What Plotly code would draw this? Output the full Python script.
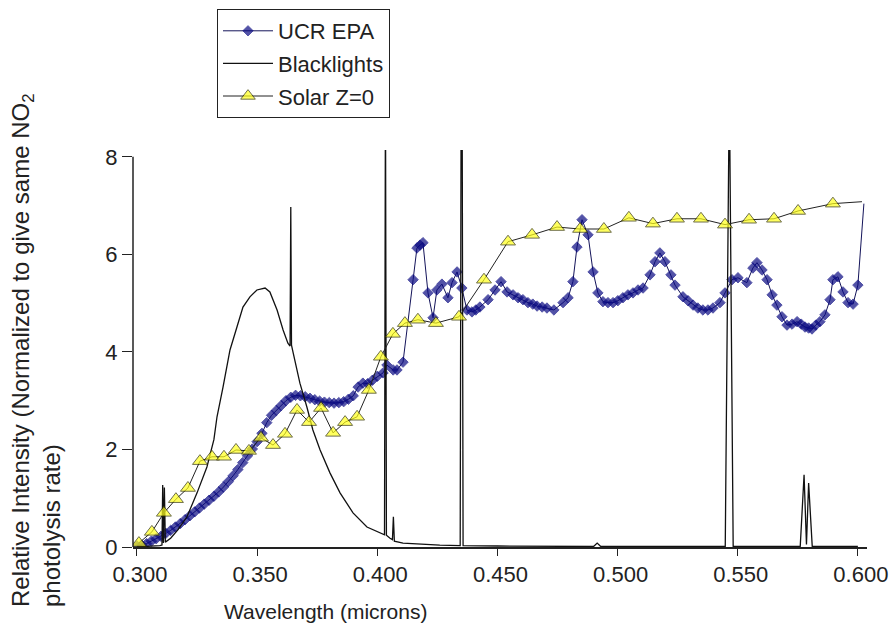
import plotly.graph_objects as go

# ---------------- data ----------------
ucr_x = [0.300, 0.302, 0.304, 0.306, 0.308, 0.310, 0.312, 0.314, 0.316, 0.318,
         0.320, 0.322, 0.324, 0.326, 0.328, 0.330, 0.332, 0.334, 0.336, 0.338,
         0.340, 0.342, 0.344, 0.346, 0.348, 0.350, 0.352, 0.354, 0.356, 0.358,
         0.360, 0.362, 0.364, 0.366, 0.368, 0.370, 0.372, 0.374, 0.376, 0.378,
         0.380, 0.382, 0.384, 0.386, 0.388, 0.390, 0.392, 0.394, 0.396, 0.398,
         0.400, 0.4024, 0.4040, 0.4066, 0.4082, 0.4107, 0.4149, 0.4165, 0.4178, 0.4190,
         0.4211, 0.4232, 0.4248, 0.4269, 0.4294, 0.4311, 0.4332, 0.4352, 0.4373, 0.4394,
         0.4410, 0.4427, 0.4461, 0.4490, 0.4515, 0.4540, 0.4565, 0.4586, 0.4606, 0.4627,
         0.4647, 0.4665, 0.4686, 0.4706, 0.4735, 0.4773, 0.4794, 0.4814, 0.4831, 0.4852,
         0.4877, 0.4898, 0.4918, 0.4939, 0.4960, 0.4981, 0.5001, 0.5022, 0.5043, 0.5064,
         0.5085, 0.5106, 0.5135, 0.5156, 0.5176, 0.5197, 0.5222, 0.5239, 0.5272, 0.5293,
         0.5314, 0.5334, 0.5355, 0.5376, 0.5397, 0.5426, 0.5447, 0.5476, 0.5501, 0.5538,
         0.5563, 0.5580, 0.5601, 0.5622, 0.5643, 0.5663, 0.5684, 0.5705, 0.5726, 0.5747,
         0.5764, 0.5780, 0.5795, 0.5809, 0.5825, 0.5842, 0.5863, 0.5884, 0.5896, 0.5917,
         0.5938, 0.5959, 0.5980, 0.6000, 0.6025]
ucr_y = [0.02, 0.04, 0.07, 0.12, 0.17, 0.22, 0.28, 0.34, 0.41, 0.48,
         0.56, 0.64, 0.72, 0.80, 0.88, 0.96, 1.04, 1.13, 1.23, 1.34,
         1.46, 1.59, 1.73, 1.87, 2.01, 2.16, 2.33, 2.55, 2.70, 2.80,
         2.90, 3.00, 3.07, 3.11, 3.10, 3.08, 3.05, 3.02, 2.99, 2.97,
         2.96, 2.95, 2.96, 2.98, 3.03, 3.10, 3.28, 3.36, 3.35, 3.42,
         3.50, 3.57, 3.73, 3.63, 3.63, 3.79, 5.48, 6.13, 6.19, 6.24,
         5.21, 4.70, 5.27, 5.39, 5.11, 5.42, 5.64, 5.31, 4.86, 4.82,
         4.86, 4.92, 5.07, 5.27, 5.44, 5.23, 5.17, 5.11, 5.07, 5.01,
         4.98, 4.94, 4.92, 4.90, 4.86, 5.01, 5.11, 5.44, 6.15, 6.71,
         6.40, 5.64, 5.21, 5.03, 5.01, 5.01, 5.05, 5.11, 5.17, 5.21,
         5.27, 5.31, 5.58, 5.85, 6.03, 5.85, 5.58, 5.37, 5.13, 5.05,
         4.96, 4.90, 4.86, 4.86, 4.90, 5.01, 5.21, 5.48, 5.52, 5.42,
         5.72, 5.83, 5.68, 5.48, 5.17, 4.96, 4.72, 4.55, 4.57, 4.62,
         4.57, 4.51, 4.49, 4.47, 4.55, 4.62, 4.76, 5.07, 5.48, 5.54,
         5.23, 5.01, 4.98, 5.37, 7.04]

black_x = [0.3000, 0.3050, 0.3095, 0.3104, 0.3107, 0.3110, 0.3114, 0.3118, 0.3140, 0.3170,
           0.3208, 0.3250, 0.3291, 0.3320, 0.3333, 0.3358, 0.3387, 0.3416, 0.3441, 0.3470,
           0.3499, 0.3533, 0.3553, 0.3583, 0.3608, 0.3628, 0.3637, 0.3640, 0.3643, 0.3650,
           0.3678, 0.3707, 0.3732, 0.3762, 0.3803, 0.3845, 0.3899, 0.3957, 0.4011, 0.4030,
           0.4034, 0.4038, 0.4053, 0.4063, 0.4067, 0.4071, 0.4107, 0.4178, 0.4260, 0.4345,
           0.4349, 0.4353, 0.4357, 0.4500, 0.4900, 0.4915, 0.4930, 0.5448, 0.5465, 0.5481,
           0.5760, 0.5776, 0.5786, 0.5795, 0.5810, 0.6000]
black_y = [0.00, 0.01, 0.03, 0.04, 1.27, 0.08, 1.22, 0.10, 0.18, 0.35,
           0.62, 1.11, 1.64, 2.20, 2.67, 3.28, 4.04, 4.51, 4.92, 5.13,
           5.27, 5.31, 5.23, 4.86, 4.45, 4.18, 4.12, 6.97, 4.14, 3.98,
           3.36, 2.87, 2.40, 1.99, 1.52, 1.11, 0.70, 0.41, 0.29, 0.25,
           9.50, 0.24, 0.18, 0.15, 0.62, 0.12, 0.08, 0.06, 0.04, 0.03,
           9.50, 9.50, 0.03, 0.02, 0.01, 0.08, 0.01, 0.01, 9.50, 0.01,
           0.01, 1.48, 0.05, 1.31, 0.01, 0.01]

solar_x = [0.3008, 0.3062, 0.3112, 0.3162, 0.3212, 0.3262, 0.3312, 0.3362, 0.3412, 0.3466,
           0.3516, 0.3566, 0.3616, 0.3666, 0.3716, 0.3766, 0.3816, 0.3866, 0.3916, 0.3965,
           0.4015, 0.4065, 0.4115, 0.4169, 0.4244, 0.4340, 0.4444, 0.4544, 0.4644, 0.4748,
           0.4844, 0.4943, 0.5047, 0.5147, 0.5247, 0.5347, 0.5447, 0.5547, 0.5651, 0.5751,
           0.5896, 0.6017]
solar_y = [0.08, 0.31, 0.70, 0.98, 1.21, 1.76, 1.85, 1.85, 1.99, 1.97,
           2.24, 2.09, 2.32, 2.81, 2.56, 2.85, 2.34, 2.56, 2.67, 3.22,
           3.90, 4.37, 4.59, 4.66, 4.59, 4.72, 5.48, 6.26, 6.40, 6.56,
           6.52, 6.52, 6.75, 6.63, 6.73, 6.73, 6.61, 6.71, 6.73, 6.89,
           7.04, 7.08]

x_ticks = [0.300, 0.350, 0.400, 0.450, 0.500, 0.550, 0.600]
x_ticklabels = ["0.300", "0.350", "0.400", "0.450", "0.500", "0.550", "0.600"]
y_ticks = [0, 2, 4, 6, 8]
y_ticklabels = ["0", "2", "4", "6", "8"]

FONT = "Liberation Sans, Arial, sans-serif"

# ---------------- figure ----------------
fig = go.Figure()

ucr_sizes = [8] * (len(ucr_x) - 1) + [0]
fig.add_trace(go.Scatter(
    x=ucr_x, y=ucr_y, mode="lines+markers", name="UCR EPA", legendgroup="g1",
    line=dict(color="#14145a", width=1),
    marker=dict(symbol="diamond", size=ucr_sizes, color="#0a0a82",
                line=dict(width=1, color="#0a0a82")),
))

fig.add_trace(go.Scatter(
    x=black_x, y=black_y, mode="lines", name="Blacklights", legendgroup="g2",
    line=dict(color="#111111", width=1.3),
))

solar_sizes = [13] * (len(solar_x) - 1) + [0]
fig.add_trace(go.Scatter(
    x=solar_x, y=solar_y, mode="lines+markers", name="Solar Z=0", legendgroup="g3",
    line=dict(color="#222222", width=1),
    marker=dict(symbol="triangle-up", size=solar_sizes, color="#ffff1a",
                line=dict(color="#333300", width=1)),
))

L, R, T, B = 133, 24, 150, 80
W, H = 891, 627
pw = W - L - R
ph = H - T - B

def px(xp):
    return (xp - L) / pw

def py(yp):
    return (H - B - yp) / ph

fig.update_layout(
    template="none",
    width=W, height=H,
    margin=dict(l=L, r=R, t=T, b=B, autoexpand=False),
    plot_bgcolor="white", paper_bgcolor="white",
    font=dict(family=FONT, color="#222222"),
    xaxis=dict(
        range=[0.29834, 0.60379], tickvals=x_ticks, ticktext=x_ticklabels,
        ticks="outside", ticklen=7, tickcolor="#222222", tickwidth=1.2,
        showline=True, linecolor="#222222", linewidth=1.5, automargin=False,
        showgrid=False, zeroline=False, ticklabelshift=3,
        tickfont=dict(size=22, family=FONT, color="#222222"),
    ),
    yaxis=dict(
        range=[0, 8.14], tickvals=y_ticks, ticktext=y_ticklabels,
        ticks="outside", ticklen=10, tickcolor="#222222", tickwidth=1.2,
        showline=False, showgrid=False, zeroline=False, automargin=False,
        tickfont=dict(size=22, family=FONT, color="#222222"),
    ),
    legend=dict(
        x=px(217), y=py(9), xanchor="left", yanchor="top",
        bordercolor="#222222", borderwidth=1, bgcolor="white",
        font=dict(size=22, family=FONT, color="#222222"),
        tracegroupgap=1, itemwidth=50,
    ),
    showlegend=True,
)

# y axis line (only up to the top tick)
fig.add_shape(type="line", xref="paper", yref="y", x0=0, x1=0, y0=0, y1=8,
              line=dict(color="#222222", width=1.5))

fig.add_annotation(
    text="Wavelength (microns)", xref="paper", yref="paper",
    x=px(325), y=py(611), xanchor="center", yanchor="middle",
    showarrow=False, font=dict(size=21, family=FONT, color="#222222"),
)
fig.add_annotation(
    text="Relative Intensity (Normalized to give same NO<sub>2</sub><br>photolysis rate)",
    xref="paper", yref="paper", x=px(36), y=py(350),
    xanchor="center", yanchor="middle", textangle=-90, align="left",
    showarrow=False, font=dict(size=24, family=FONT, color="#222222"),
)

fig.write_html("out.html")
